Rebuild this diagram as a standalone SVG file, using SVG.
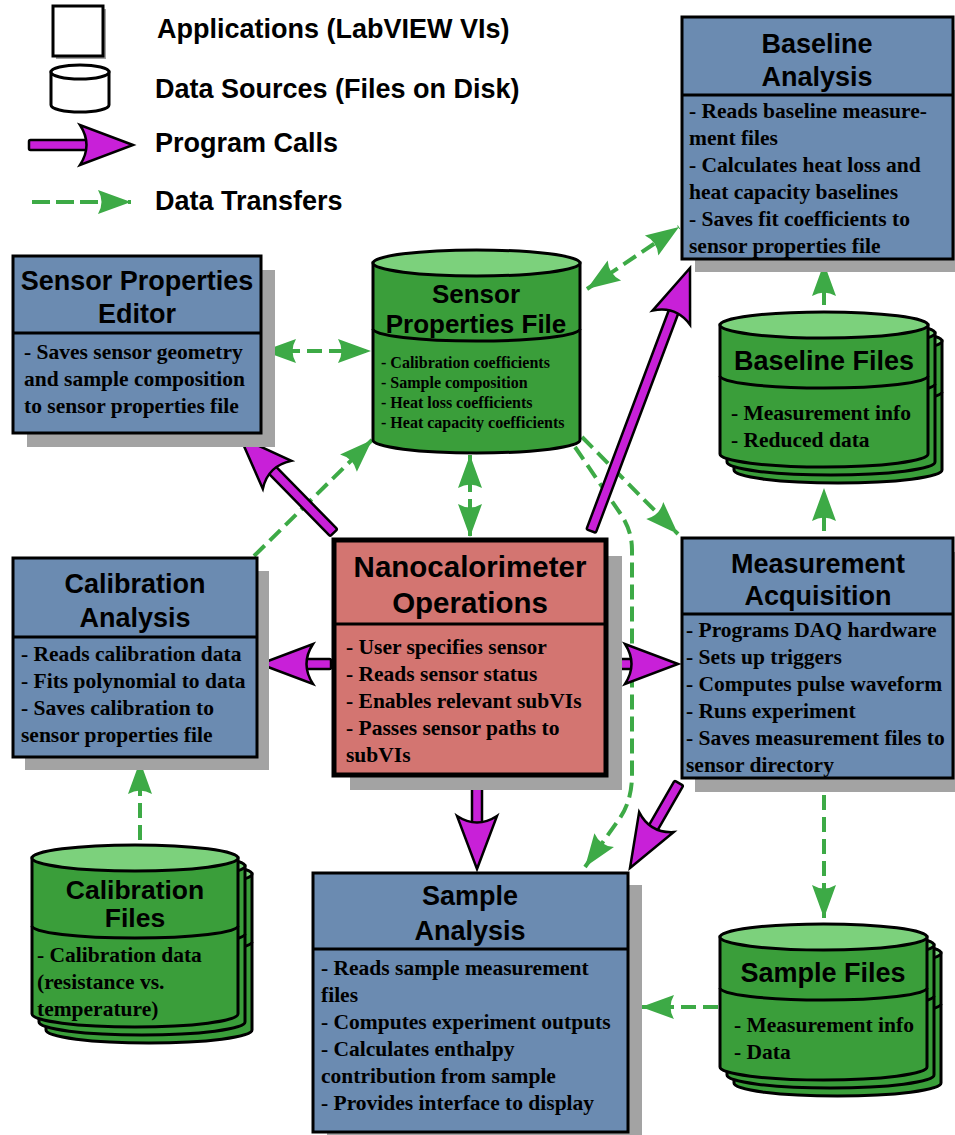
<svg xmlns="http://www.w3.org/2000/svg" xmlns:xlink="http://www.w3.org/1999/xlink" width="955" height="1135" viewBox="0 0 955 1135">
<style>
.box{fill:#6B8BB1;stroke:#000;stroke-width:3}
.nano{fill:#D37571;stroke:#000;stroke-width:5}
.shadow{fill:#A3A3A3}
.div{stroke:#000;stroke-width:3;fill:none}
.title{font-family:"Liberation Sans",Arial,sans-serif;font-weight:bold;font-size:27px;text-anchor:middle;fill:#000}
.ntitle{font-size:29.5px}
.ctitle{font-size:26.5px}
.stitle{font-size:26px}
.body{font-family:"Liberation Serif","Times New Roman",serif;font-weight:bold;font-size:21.5px;fill:#000}
.small{font-size:16px}
.cyl{fill:#3A9E3A;stroke:#000;stroke-width:3}
.ctop{fill:#7CD17C;stroke:#000;stroke-width:3}
.data{fill:none;stroke:#3DAA46;stroke-width:4;stroke-dasharray:15 7;marker-end:url(#ga)}
.both{marker-start:url(#ga)}
.shaft{fill:#C820D8;stroke:#000;stroke-width:2.5}
.legend{font-family:"Liberation Sans",Arial,sans-serif;font-weight:bold;font-size:27px;fill:#000}
</style>
<defs>
<marker id="ga" markerUnits="userSpaceOnUse" orient="auto-start-reverse" overflow="visible" markerWidth="1" markerHeight="1" refX="0" refY="0">
<path d="M0,0 L-33,-12 Q-26,0 -33,12 Z" fill="#3DAA46"/>
</marker>
<path id="ph" class="shaft" d="M0,0 L-53,-20 Q-40,0 -53,20 Z"/>
<g id="bfShape">
<path class="cyl" d="M720,325 L720,454 A104,13 0 0 0 928,454 L928,325 Z"/>
<ellipse class="ctop" cx="824" cy="325" rx="104" ry="13"/>
<path class="div" d="M720,376 A104,12 0 0 0 928,376"/>
</g>
<g id="cfShape">
<path class="cyl" d="M32,858 L32,1014 A103,13 0 0 0 238,1014 L238,858 Z"/>
<ellipse class="ctop" cx="135" cy="858" rx="103" ry="13"/>
<path class="div" d="M32,926 A103,12 0 0 0 238,926"/>
</g>
<g id="sfShape">
<path class="cyl" d="M720,937 L720,1067 A103.5,13 0 0 0 927,1067 L927,937 Z"/>
<ellipse class="ctop" cx="823.5" cy="937" rx="103.5" ry="13"/>
<path class="div" d="M720,988 A103.5,12 0 0 0 927,988"/>
</g>
</defs>
<rect width="955" height="1135" fill="#fff"/>

<g id="legend">
<rect x="56" y="9" width="50" height="50" fill="#A3A3A3"/>
<rect x="53" y="6" width="50" height="50" fill="#fff" stroke="#000" stroke-width="3"/>
<path d="M51,72 L51,105 A29,7 0 0 0 109,105 L109,72 Z" fill="#fff" stroke="#000" stroke-width="3"/>
<ellipse cx="80" cy="72" rx="29" ry="7" fill="#fff" stroke="#000" stroke-width="3"/>
<g transform="translate(133,145)"><rect class="shaft" x="-104" y="-5" width="60" height="10" rx="1.5"/><use href="#ph"/></g>
<path d="M32,202 L131,202" fill="none" stroke="#3DAA46" stroke-width="4" stroke-dasharray="18 6" marker-end="url(#ga)"/>
<text class="legend" x="157" y="38">Applications (LabVIEW VIs)</text>
<text class="legend" x="155" y="98">Data Sources (Files on Disk)</text>
<text class="legend" x="155" y="152">Program Calls</text>
<text class="legend" x="155" y="210">Data Transfers</text>
</g>

<g id="connectors">
<path class="data both" d="M263,351 L371,351"/>
<path class="data both" d="M587,289 L679,227"/>
<path class="data" d="M254,556 L372,440"/>
<path class="data both" d="M470,455 L470,537"/>
<path class="data" d="M582,437 L678,534"/>
<path class="data" d="M575,447 L620,513 Q632,530 632,550 L632,775 Q632,800 620,818 L585,867"/>
<path class="data" d="M824,305 L824,263"/>
<path class="data" d="M824,531 L824,488"/>
<path class="data" d="M824,795 L824,918"/>
<path class="data" d="M718,1007 L641,1007"/>
<path class="data" d="M140,840 L140,761"/>
<g transform="translate(240,437) rotate(225.6)"><rect class="shaft" x="-134" y="-5" width="92" height="10" rx="1.5"/><use href="#ph"/></g>
<g transform="translate(690,268) rotate(-69.4)"><rect class="shaft" x="-281" y="-5" width="239" height="10" rx="1.5"/><use href="#ph"/></g>
<g transform="translate(260,664) rotate(180)"><rect class="shaft" x="-71" y="-5" width="29" height="10" rx="1.5"/><use href="#ph"/></g>
<g transform="translate(678,664)"><rect class="shaft" x="-68" y="-5" width="26" height="10" rx="1.5"/><use href="#ph"/></g>
<g transform="translate(477,869) rotate(90)"><rect class="shaft" x="-91" y="-5" width="49" height="10" rx="1.5"/><use href="#ph"/></g>
<g transform="translate(630,868) rotate(119.96)"><rect class="shaft" x="-98" y="-5" width="56" height="10" rx="1.5"/><use href="#ph"/></g>
</g>

<g id="sensor-properties-editor">
<rect class="shadow" x="27" y="270" width="248" height="177"/>
<rect class="box" x="13" y="256" width="248" height="177"/>
<line class="div" x1="13" y1="333" x2="261" y2="333"/>
<text class="title" x="137" y="290">Sensor Properties</text>
<text class="title" x="137" y="323">Editor</text>
<text class="body" x="24" y="359">- Saves sensor geometry</text>
<text class="body" x="24" y="386">and sample composition</text>
<text class="body" x="24" y="413">to sensor properties file</text>
</g>

<g id="sensor-properties-file">
<path class="cyl" d="M373,263 L373,440 A103.5,13 0 0 0 580,440 L580,263 Z"/>
<ellipse class="ctop" cx="476.5" cy="263" rx="103.5" ry="13"/>
<path class="div" d="M373,329 A103.5,12 0 0 0 580,329"/>
<text class="title stitle" x="476" y="303">Sensor</text>
<text class="title stitle" x="476" y="333">Properties File</text>
<text class="body small" x="381" y="368">- Calibration coefficients</text>
<text class="body small" x="381" y="388">- Sample composition</text>
<text class="body small" x="381" y="408">- Heat loss coefficients</text>
<text class="body small" x="381" y="428">- Heat capacity coefficients</text>
</g>

<g id="baseline-analysis">
<rect class="shadow" x="695" y="30" width="271" height="242"/>
<rect class="box" x="682" y="17" width="271" height="242"/>
<line class="div" x1="682" y1="95" x2="953" y2="95"/>
<text class="title" x="817" y="53">Baseline</text>
<text class="title" x="817" y="86">Analysis</text>
<text class="body" x="689" y="118">- Reads baseline measure-</text>
<text class="body" x="689" y="145">ment files</text>
<text class="body" x="689" y="172">- Calculates heat loss and</text>
<text class="body" x="689" y="199">heat capacity baselines</text>
<text class="body" x="689" y="226">- Saves fit coefficients to</text>
<text class="body" x="689" y="253">sensor properties file</text>
</g>

<g id="baseline-files">
<use href="#bfShape" transform="translate(14,16)"/>
<use href="#bfShape" transform="translate(7,8)"/>
<use href="#bfShape"/>
<text class="title" x="824" y="370">Baseline Files</text>
<text class="body" x="731" y="420">- Measurement info</text>
<text class="body" x="731" y="447">- Reduced data</text>
</g>

<g id="calibration-analysis">
<rect class="shadow" x="25" y="571" width="244" height="199"/>
<rect class="box" x="13" y="558" width="244" height="199"/>
<line class="div" x1="13" y1="637" x2="257" y2="637"/>
<text class="title" x="135" y="593">Calibration</text>
<text class="title" x="135" y="627">Analysis</text>
<text class="body" x="21" y="661">- Reads calibration data</text>
<text class="body" x="21" y="688">- Fits polynomial to data</text>
<text class="body" x="21" y="715">- Saves calibration to</text>
<text class="body" x="21" y="742">sensor properties file</text>
</g>

<g id="nanocalorimeter-operations">
<rect class="shadow" x="350" y="556" width="272" height="234"/>
<rect class="nano" x="334" y="540" width="272" height="235"/>
<line class="div" x1="334" y1="624" x2="606" y2="624"/>
<text class="title ntitle" x="470" y="577">Nanocalorimeter</text>
<text class="title ntitle" x="470" y="613">Operations</text>
<text class="body" x="346" y="654">- User specifies sensor</text>
<text class="body" x="346" y="681">- Reads sensor status</text>
<text class="body" x="346" y="708">- Enables relevant subVIs</text>
<text class="body" x="346" y="735">- Passes sensor paths to</text>
<text class="body" x="346" y="762">subVIs</text>
</g>

<g id="measurement-acquisition">
<rect class="shadow" x="695" y="552" width="271" height="240"/>
<rect class="box" x="682" y="538" width="271" height="240"/>
<line class="div" x1="682" y1="614" x2="953" y2="614"/>
<text class="title" x="818" y="573">Measurement</text>
<text class="title" x="818" y="605">Acquisition</text>
<text class="body" x="686" y="637">- Programs DAQ hardware</text>
<text class="body" x="686" y="664">- Sets up triggers</text>
<text class="body" x="686" y="691">- Computes pulse waveform</text>
<text class="body" x="686" y="718">- Runs experiment</text>
<text class="body" x="686" y="745">- Saves measurement files to</text>
<text class="body" x="686" y="772">sensor directory</text>
</g>

<g id="calibration-files">
<use href="#cfShape" transform="translate(14,16)"/>
<use href="#cfShape" transform="translate(7,8)"/>
<use href="#cfShape"/>
<text class="title ctitle" x="135" y="899">Calibration</text>
<text class="title ctitle" x="135" y="927">Files</text>
<text class="body" x="37" y="962">- Calibration data</text>
<text class="body" x="37" y="989">(resistance vs.</text>
<text class="body" x="37" y="1016">temperature)</text>
</g>

<g id="sample-analysis">
<rect class="shadow" x="327" y="885" width="315" height="259"/>
<rect class="box" x="313" y="873" width="315" height="259"/>
<line class="div" x1="313" y1="949" x2="628" y2="949"/>
<text class="title" x="470" y="905">Sample</text>
<text class="title" x="470" y="940">Analysis</text>
<text class="body" x="321" y="975">- Reads sample measurement</text>
<text class="body" x="321" y="1002">files</text>
<text class="body" x="321" y="1029">- Computes experiment outputs</text>
<text class="body" x="321" y="1056">- Calculates enthalpy</text>
<text class="body" x="321" y="1083">contribution from sample</text>
<text class="body" x="321" y="1110">- Provides interface to display</text>
</g>

<g id="sample-files">
<use href="#sfShape" transform="translate(14,16)"/>
<use href="#sfShape" transform="translate(7,8)"/>
<use href="#sfShape"/>
<text class="title" x="823" y="982">Sample Files</text>
<text class="body" x="734" y="1032">- Measurement info</text>
<text class="body" x="734" y="1059">- Data</text>
</g>
</svg>
